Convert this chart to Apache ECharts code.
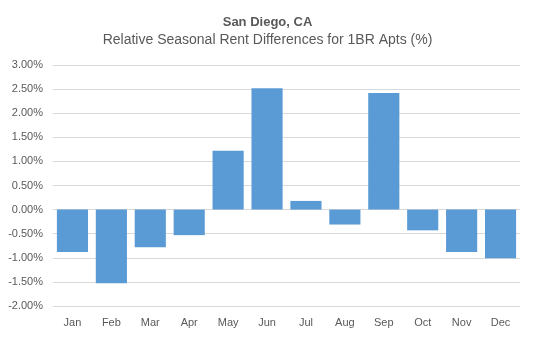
<!DOCTYPE html>
<html>
<head>
<meta charset="utf-8">
<script src="https://cdn.jsdelivr.net/npm/echarts@6/dist/echarts.min.js"></script>
<style>
  html, body { margin: 0; padding: 0; background: #fff; }
  #chart { width: 535px; height: 337px; }
</style>
</head>
<body>
<div id="chart"></div>
<script>
// Month categories and relative seasonal rent differences (%)
const months = ['Jan', 'Feb', 'Mar', 'Apr', 'May', 'Jun', 'Jul', 'Aug', 'Sep', 'Oct', 'Nov', 'Dec'];
const rentDiff = [-0.88, -1.53, -0.78, -0.53, 1.22, 2.52, 0.18, -0.31, 2.42, -0.43, -0.88, -1.01];

const titleText = 'San Diego, CA';
const subtitleText = 'Relative Seasonal Rent Differences for 1BR Apts (%)';

const font = 'Liberation Sans, Arial, sans-serif';
const textColor = '#595959';

const chart = echarts.init(document.getElementById('chart'), null, { renderer: 'canvas' });
chart.setOption({
  animation: false,
  backgroundColor: '#ffffff',
  title: {
    text: titleText,
    subtext: subtitleText,
    left: 'center',
    top: 11,
    itemGap: 4,
    textStyle: { fontFamily: font, fontSize: 13, fontWeight: 'bold', color: textColor },
    subtextStyle: { fontFamily: font, fontSize: 14, color: textColor }
  },
  grid: { left: 53, right: 15, top: 65, bottom: 31, containLabel: false },
  xAxis: {
    type: 'category',
    data: months,
    axisLine: { show: false, onZero: false },
    axisTick: { show: false },
    axisLabel: { fontFamily: font, fontSize: 11, color: textColor, margin: 11 }
  },
  yAxis: {
    type: 'value',
    min: -2,
    max: 3,
    interval: 0.5,
    axisLine: { show: false },
    axisTick: { show: false },
    splitLine: { lineStyle: { color: '#d9d9d9', width: 1 } },
    axisLabel: {
      fontFamily: font, fontSize: 11, color: textColor, margin: 10,
      formatter: v => v.toFixed(2) + '%'
    }
  },
  series: [{
    type: 'bar',
    data: rentDiff,
    barCategoryGap: '20%',
    itemStyle: { color: '#5b9bd5' }
  }]
});
</script>
</body>
</html>
